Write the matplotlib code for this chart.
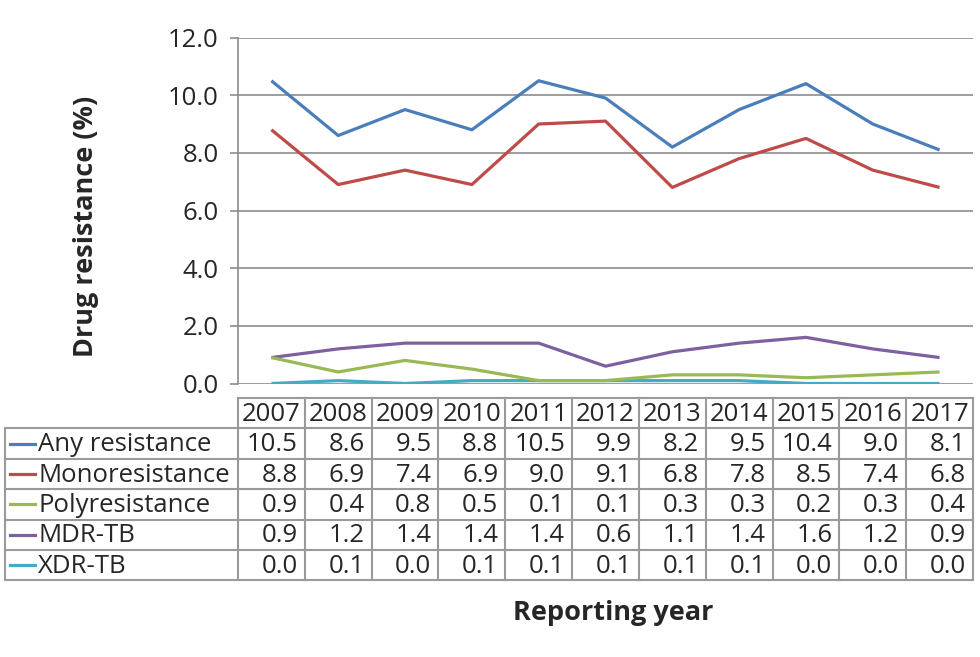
import numpy as np
import matplotlib
matplotlib.use('Agg')
import matplotlib.pyplot as plt

plt.rcParams['font.family'] = ['Open Sans', 'DejaVu Sans']

# Datos
anios = ['2007', '2008', '2009', '2010', '2011', '2012', '2013', '2014', '2015', '2016', '2017']
any_resistance = [10.5, 8.6, 9.5, 8.8, 10.5, 9.9, 8.2, 9.5, 10.4, 9.0, 8.1]
monoresistance = [8.8, 6.9, 7.4, 6.9, 9.0, 9.1, 6.8, 7.8, 8.5, 7.4, 6.8]
polyresistance = [0.9, 0.4, 0.8, 0.5, 0.1, 0.1, 0.3, 0.3, 0.2, 0.3, 0.4]
mdr_tb = [0.9, 1.2, 1.4, 1.4, 1.4, 0.6, 1.1, 1.4, 1.6, 1.2, 0.9]
xdr_tb = [0.0, 0.1, 0.0, 0.1, 0.1, 0.1, 0.1, 0.1, 0.0, 0.0, 0.0]

series = [('Any resistance', any_resistance, '#4a7ebb'),
          ('Monoresistance', monoresistance, '#be4b48'),
          ('Polyresistance', polyresistance, '#98b954'),
          ('MDR-TB', mdr_tb, '#7d60a0'),
          ('XDR-TB', xdr_tb, '#46aac5')]

W, H = 980, 657
fig = plt.figure(figsize=(W/100, H/100), dpi=100)

# Posiciones en pixeles del area del grafico y de la tabla
x_izq, x_der = 238, 973
y_sup, y_inf = 37.5, 383.5
fila_h = 30.4
y_tabla = 398
x_tabla = 5
n = len(anios)
col_w = (x_der - x_izq) / n
fs = 18.5

ax = fig.add_axes([x_izq/W, 1 - y_inf/H, (x_der - x_izq)/W, (y_inf - y_sup)/H])
x = np.arange(n)
for nombre, valores, color in series[::-1]:
    ax.plot(x, valores, color=color, lw=2.3, solid_capstyle='butt')
ax.set_xlim(-0.5, n - 0.5)
ax.set_ylim(0, 12)
ax.set_yticks(np.arange(0, 12.1, 2))
ax.set_yticklabels(['%.1f' % v for v in np.arange(0, 12.1, 2)], fontsize=fs, color='#262626')
ax.set_xticks([])
ax.grid(axis='y', color='#8c8c8c', lw=1.2)
ax.set_axisbelow(True)
for s in ['top', 'right', 'bottom']:
    ax.spines[s].set_visible(False)
ax.spines['left'].set_color('#8c8c8c')
ax.spines['left'].set_linewidth(1.2)
ax.tick_params(axis='y', length=6, width=1.2, color='#8c8c8c', pad=8)

fig.text(86 / W, 1 - 226 / H, 'Drug resistance (%)', rotation=90, ha='center', va='center',
         fontsize=19.5, fontweight='bold', color='#262626')

# Tabla de datos dibujada a mano
tax = fig.add_axes([0, 0, 1, 1])
tax.set_xlim(0, W)
tax.set_ylim(H, 0)
tax.axis('off')
gris = '#9a9a9a'
y_fin = y_tabla + fila_h * (len(series) + 1)
# lineas horizontales
tax.plot([x_izq, x_der], [y_tabla, y_tabla], color=gris, lw=1.5)
for i in range(1, len(series) + 2):
    yy = y_tabla + fila_h * i
    tax.plot([x_tabla, x_der], [yy, yy], color=gris, lw=1.5)
# lineas verticales
tax.plot([x_tabla, x_tabla], [y_tabla + fila_h, y_fin], color=gris, lw=1.5)
for j in range(n + 1):
    xx = x_izq + col_w * j
    tax.plot([xx, xx], [y_tabla, y_fin], color=gris, lw=1.5)
# encabezado
for j, a in enumerate(anios):
    tax.text(x_izq + col_w * (j + 0.5), y_tabla + fila_h / 2 + 1, a, ha='center', va='center',
             fontsize=fs, color='#262626')
# filas
for i, (nombre, valores, color) in enumerate(series):
    yc = y_tabla + fila_h * (i + 1.5)
    tax.plot([x_tabla + 5, x_tabla + 30], [yc, yc], color=color, lw=2.3)
    tax.text(x_tabla + 33, yc + 1, nombre, ha='left', va='center', fontsize=fs, color='#262626')
    for j, v in enumerate(valores):
        tax.text(x_izq + col_w * (j + 1) - 7, yc + 1, '%.1f' % v, ha='right', va='center',
                 fontsize=fs, color='#262626')

fig.text(613 / W, 1 - 613 / H, 'Reporting year', ha='center', va='center',
         fontsize=19.5, fontweight='bold', color='#262626')

fig.savefig('out.png', dpi=100)
